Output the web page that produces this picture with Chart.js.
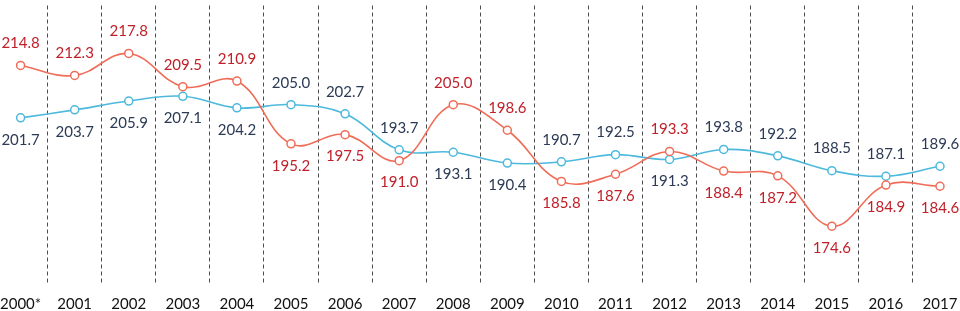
<!DOCTYPE html>
<html>
<head>
<meta charset="utf-8">
<script src="https://cdn.jsdelivr.net/npm/chart.js@4.4.1/dist/chart.umd.min.js"></script>
<style>
  html, body { margin: 0; padding: 0; background: #fff; }
  #wrap { width: 960px; height: 311px; }
</style>
</head>
<body>
<div id="wrap"><canvas id="chart1"></canvas></div>
<script>
// categories and values
var years = ["2000*", "2001", "2002", "2003", "2004", "2005", "2006", "2007", "2008",
             "2009", "2010", "2011", "2012", "2013", "2014", "2015", "2016", "2017"];
var redValues = [214.8, 212.3, 217.8, 209.5, 210.9, 195.2, 197.5, 191.0, 205.0,
                 198.6, 185.8, 187.6, 193.3, 188.4, 187.2, 174.6, 184.9, 184.6];
var blueValues = [201.7, 203.7, 205.9, 207.1, 204.2, 205.0, 202.7, 193.7, 193.1,
                  190.4, 190.7, 192.5, 191.3, 193.8, 192.2, 188.5, 187.1, 189.6];

// value labels: the higher series of each year gets its label above, the lower below
var valueLabels = {
    id: 'valueLabels',
    afterDatasetsDraw: function (chart) {
        var ctx = chart.ctx;
        ctx.save();
        ctx.font = '15px Lato';
        ctx.textAlign = 'center';
        ctx.textBaseline = 'middle';
        chart.data.datasets.forEach(function (ds, di) {
            var other = chart.data.datasets[1 - di].data;
            chart.getDatasetMeta(di).data.forEach(function (pt, i) {
                var above = ds.data[i] >= other[i];
                ctx.fillStyle = ds.labelColor;
                ctx.fillText(ds.data[i].toFixed(1), pt.x, pt.y + (above ? -22 : 22));
            });
        });
        ctx.restore();
    }
};

var ctxChart1 = document.getElementById('chart1').getContext('2d');
var chart1 = new Chart(ctxChart1, {
    type: 'line',
    plugins: [valueLabels],
    data: {
        labels: years,
        datasets: [{
            data: redValues,
            borderColor: '#ef6d58',
            labelColor: '#c0202a',
            pointBackgroundColor: '#ffffff',
            pointBorderColor: '#ef6d58',
            borderWidth: 1.6,
            pointRadius: 4,
            pointBorderWidth: 1.5,
            tension: 0.4
        }, {
            data: blueValues,
            borderColor: '#4cb9dd',
            labelColor: '#2b3a55',
            pointBackgroundColor: '#ffffff',
            pointBorderColor: '#4cb9dd',
            borderWidth: 1.6,
            pointRadius: 4,
            pointBorderWidth: 1.5,
            tension: 0.4
        }]
    },
    options: {
        maintainAspectRatio: false,
        animation: false,
        layout: { padding: { left: 20, right: 20, top: 0, bottom: -14 } },
        plugins: {
            legend: { display: false },
            title: { display: false },
            tooltip: { enabled: false }
        },
        scales: {
            x: {
                offset: false,
                border: { display: false, dash: [4, 3] },
                grid: {
                    offset: true,
                    drawTicks: false,
                    color: '#4d4d4d',
                    lineWidth: 1
                },
                ticks: {
                    color: '#111111',
                    // tall line height pushes the year labels down without widening the side padding
                    font: { family: 'Lato', size: 15, lineHeight: 2.8 },
                    padding: 0,
                    maxRotation: 0,
                    autoSkip: false
                }
            },
            y: {
                display: false,
                min: 160.4,
                max: 229.8
            }
        }
    }
});
</script>
</body>
</html>
